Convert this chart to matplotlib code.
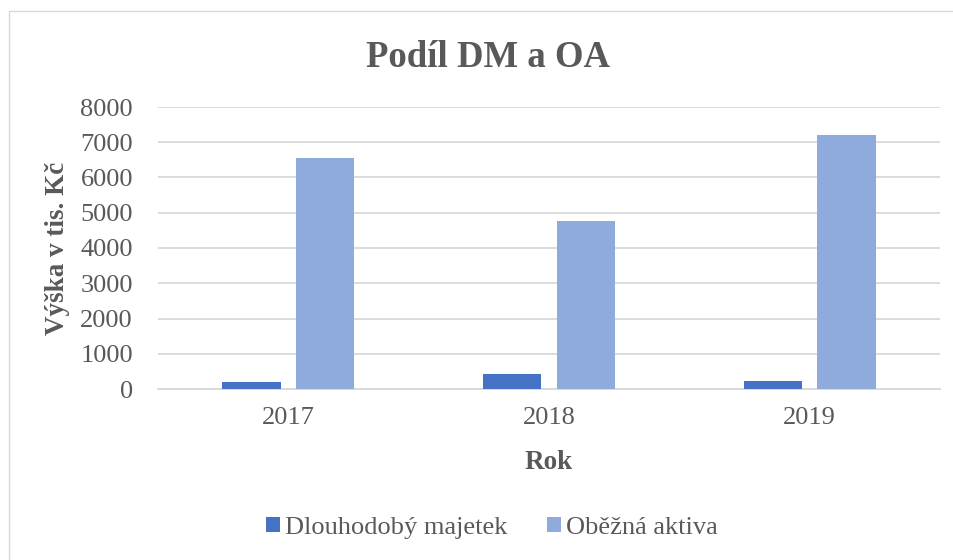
import matplotlib
matplotlib.use("Agg")
import matplotlib.pyplot as plt
import numpy as np
from matplotlib.patches import Rectangle

years = ["2017", "2018", "2019"]
dm_values = [190, 435, 218]
oa_values = [6551, 4767, 7209]
series_names = ["Dlouhodobý majetek", "Oběžná aktiva"]
yticks = [0, 1000, 2000, 3000, 4000, 5000, 6000, 7000, 8000]

plt.rcParams['font.family'] = ['Liberation Serif', 'DejaVu Serif']
TXT = '#595959'
C_DM = '#4472C4'
C_OA = '#8FAADC'
GRID = '#D9D9D9'

W, H = 954, 560
fig = plt.figure(figsize=(W/100, H/100), dpi=100)
fig.patch.set_facecolor('white')

# chart border
fig.patches.append(Rectangle((9/W, -0.05), 1.2, 1 - 11/H + 0.05, transform=fig.transFigure,
                             fill=False, edgecolor=GRID, linewidth=1.0))

left, right, bottom, top = 158, 940, 389, 107
ax = fig.add_axes([left/W, 1 - bottom/H, (right-left)/W, (bottom-top)/H])

x = np.arange(len(years))
bw = 0.224
off = 0.141
ax.bar(x - off, dm_values, bw, color=C_DM, label=series_names[0], zorder=3)
ax.bar(x + off, oa_values, bw, color=C_OA, label=series_names[1], zorder=3)

ax.set_xlim(-0.5, 2.5)
ax.set_ylim(0, 8000)
ax.set_yticks(yticks)
ax.set_xticks(x)
ax.set_xticklabels(years)
ax.yaxis.grid(True, color=GRID, linewidth=1.3, zorder=0)
ax.set_axisbelow(True)
for s in ['top', 'right', 'left']:
    ax.spines[s].set_visible(False)
ax.spines['bottom'].set_color(GRID)
ax.spines['bottom'].set_linewidth(1.3)
ax.tick_params(axis='both', length=0, colors=TXT, labelsize=19)
ax.tick_params(axis='y', pad=18)
ax.tick_params(axis='x', pad=13)

fig.text(58/W, 1 - 248/H, "Výška v tis. Kč", rotation=90, ha='center', va='center',
         fontsize=19.5, fontweight='bold', color=TXT)
fig.text(549/W, 1 - 469/H, "Rok", ha='center', va='baseline',
         fontsize=19.5, fontweight='bold', color=TXT)
fig.text(488/W, 1 - 67/H, "Podíl DM a OA", ha='center', va='baseline',
         fontsize=26.5, fontweight='bold', color=TXT)

leg = fig.legend(loc='center', bbox_to_anchor=(492/W, 1 - 528/H), ncol=2, frameon=False,
                 prop={'family': ['Liberation Serif', 'DejaVu Serif'], 'size': 19},
                 handlelength=0.53, handleheight=0.53, handletextpad=0.2,
                 columnspacing=1.5)
for t in leg.get_texts():
    t.set_color(TXT)

fig.savefig("out.png", dpi=100, facecolor='white')
